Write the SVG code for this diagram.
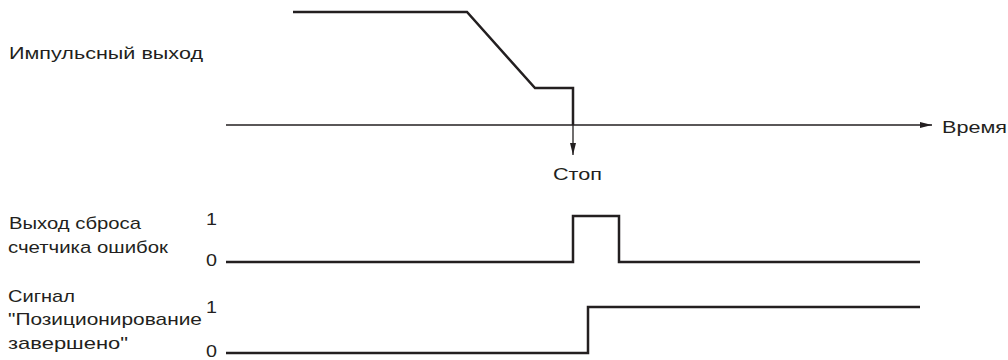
<svg xmlns="http://www.w3.org/2000/svg" width="1008" height="360" viewBox="0 0 1008 360">
<defs>
<style>
text{font-family:"Liberation Sans",Arial,sans-serif;font-size:17px;fill:#231f20}
.sig{fill:none;stroke:#231f20;stroke-width:2.5;stroke-linejoin:miter}
.thin{fill:none;stroke:#231f20;stroke-width:1.3}
</style>
<marker id="ah" markerWidth="12" markerHeight="8" refX="12" refY="4" orient="auto" markerUnits="userSpaceOnUse">
<path d="M0,1 L12,4 L0,7 Z" fill="#231f20"/>
</marker>
</defs>
<rect width="1008" height="360" fill="#fff"/>
<g id="labels">
<text x="9" y="59" textLength="194" lengthAdjust="spacingAndGlyphs">Импульсный выход</text>
<text x="9" y="229" textLength="132" lengthAdjust="spacingAndGlyphs">Выход сброса</text>
<text x="8" y="253" textLength="160" lengthAdjust="spacingAndGlyphs">счетчика ошибок</text>
<text x="8" y="302" textLength="67" lengthAdjust="spacingAndGlyphs">Сигнал</text>
<text x="8" y="325" textLength="194" lengthAdjust="spacingAndGlyphs">"Позиционирование</text>
<text x="8" y="349" textLength="120" lengthAdjust="spacingAndGlyphs">завершено"</text>
<text x="206" y="225" textLength="11" lengthAdjust="spacingAndGlyphs">1</text>
<text x="206" y="266" textLength="11" lengthAdjust="spacingAndGlyphs">0</text>
<text x="206" y="313" textLength="11" lengthAdjust="spacingAndGlyphs">1</text>
<text x="206" y="357" textLength="11" lengthAdjust="spacingAndGlyphs">0</text>
</g>
<g id="time-axis">
<line class="thin" x1="226" y1="125" x2="932" y2="125" marker-end="url(#ah)"/>
<text x="942" y="133" textLength="65" lengthAdjust="spacingAndGlyphs">Время</text>
</g>
<g id="pulse">
<polyline class="sig" points="293,12 467,12 535,88 573,88 573,125"/>
</g>
<g id="stop">
<line class="thin" x1="573" y1="125" x2="573" y2="155" marker-end="url(#ah)"/>
<text x="553" y="180" textLength="49" lengthAdjust="spacingAndGlyphs">Стоп</text>
</g>
<g id="reset">
<polyline class="sig" points="226,262 573,262 573,216 619,216 619,262 920,262"/>
</g>
<g id="poscomplete">
<polyline class="sig" points="226,353 588,353 588,307 920,307"/>
</g>
</svg>
